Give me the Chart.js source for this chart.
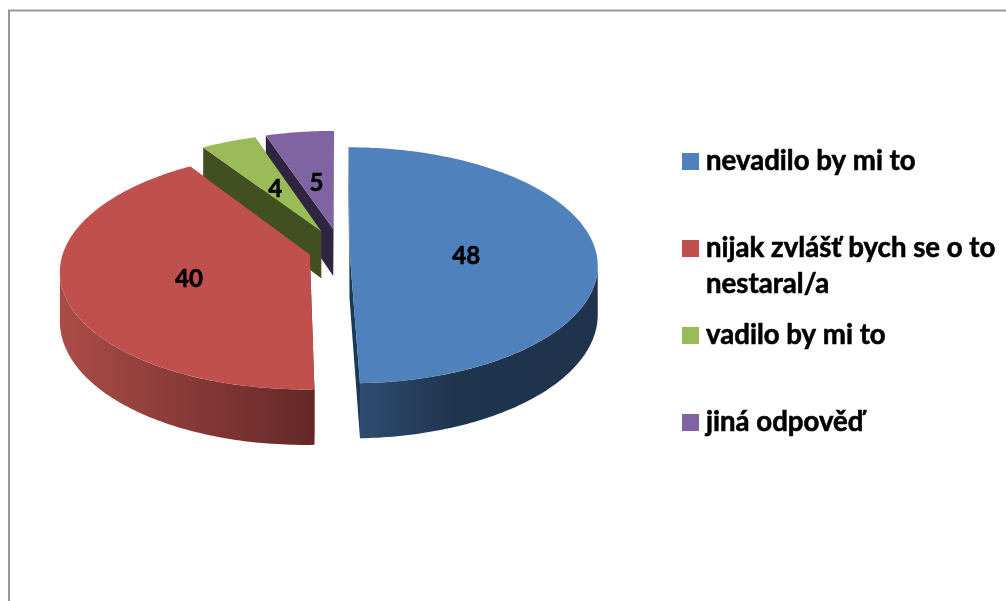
<!DOCTYPE html>
<html lang="cs">
  <head>
    <meta charset="utf-8">
    <title>Exploded 3D pie</title>
    <script src="https://cdn.jsdelivr.net/npm/chart.js@4/dist/chart.umd.js"></script>
    <style>
      html, body { margin: 0; padding: 0; background: #fff; overflow: hidden; }
      canvas { display: block; }
    </style>
  </head>
  <body>
    <canvas id="chart" width="1006" height="601"></canvas>
    <script>
      const categories = ['nevadilo by mi to', 'nijak zvlášť bych se o to nestaral/a', 'vadilo by mi to', 'jiná odpověď'];
      const values = [48, 40, 4, 5];

      // legend text as wrapped in the picture
      const legendLines = [['nevadilo by mi to'], ['nijak zvlášť bych se o to', 'nestaral/a'], ['vadilo by mi to'], ['jiná odpověď']];
      const legendBoxTop = [153, 240, 327, 414];

      const topColors = ['#4f81bd', '#c0504d', '#9bbb59', '#8064a2'];
      const cutColors = ['#1b3a57', '#642826', '#414f21', '#2f2540'];
      const wallStops = [
        [[0, '#2f4c70'], [0.4, '#1f344d'], [1, '#1f334c']],
        [[0, '#ab4c48'], [1, '#642826']],
        [[0, '#414f21'], [1, '#414f21']],
        [[0, '#2f2540'], [1, '#2f2540']]
      ];
      const explode = [9, 32, 45, 46];
      const labelRadius = [0.475, 0.5, 0.47, 0.47];
      const labelDrop = [7, 7, 3, 3];

      // fake perspective of the pie plane
      const TILT = 116 / 246;
      const PERSP = 0.13;
      const DEPTH = 48;

      function project(arc, wx, wz, h) {
        const w = 1 - PERSP * wz;
        return {
          x: arc.x + arc.outerRadius * wx / w,
          y: arc.y + (arc.outerRadius * TILT * wz + (h || 0)) / w
        };
      }

      // apex of an exploded slice, in units of the radius
      function apexOf(arc, i) {
        const mid = (arc.startAngle + arc.endAngle) / 2;
        const e = explode[i] / arc.outerRadius;
        return { x: e * Math.cos(mid), z: e * Math.sin(mid), mid };
      }

      function rimPoints(arc, i, from, to, h) {
        const a = apexOf(arc, i);
        const pts = [];
        const steps = Math.max(4, Math.ceil((to - from) * 60));
        for (let s = 0; s <= steps; s++) {
          const t = from + (to - from) * s / steps;
          pts.push(project(arc, a.x + Math.cos(t), a.z + Math.sin(t), h));
        }
        return pts;
      }

      function fillPoly(ctx, pts, fill) {
        ctx.beginPath();
        pts.forEach((p, n) => (n ? ctx.lineTo(p.x, p.y) : ctx.moveTo(p.x, p.y)));
        ctx.closePath();
        ctx.fillStyle = fill;
        ctx.fill();
      }

      function drawWalls(ctx, arc, i) {
        const a = apexOf(arc, i);
        [arc.startAngle, arc.endAngle].forEach(t => {
          const rimX = a.x + Math.cos(t), rimZ = a.z + Math.sin(t);
          fillPoly(ctx, [
            project(arc, a.x, a.z, 0), project(arc, rimX, rimZ, 0),
            project(arc, rimX, rimZ, DEPTH), project(arc, a.x, a.z, DEPTH)
          ], cutColors[i]);
        });
        // outer wall, only the part that faces the viewer
        const edge = Math.asin(PERSP);
        const from = Math.max(arc.startAngle, edge);
        const to = Math.min(arc.endAngle, Math.PI - edge);
        if (to <= from) return;
        const upper = rimPoints(arc, i, from, to, 0);
        const lower = rimPoints(arc, i, from, to, DEPTH).reverse();
        const xs = upper.map(p => p.x);
        const grad = ctx.createLinearGradient(Math.min(...xs), 0, Math.max(...xs), 0);
        wallStops[i].forEach(s => grad.addColorStop(s[0], s[1]));
        fillPoly(ctx, upper.concat(lower), grad);
      }

      // Lato bold is a bit thin next to the picture, so thicken it slightly
      function heavyText(ctx, text, x, y) {
        ctx.lineWidth = 0.6;
        ctx.strokeStyle = '#000';
        ctx.strokeText(text, x, y);
        ctx.fillText(text, x, y);
      }

      const pie3d = {
        id: 'pie3d',
        afterDatasetsUpdate(chart) {
          chart.getDatasetMeta(0).data.forEach((arc, i) => {
            // top face only, walls come from beforeDatasetsDraw
            arc.draw = ctx => {
              const a = apexOf(arc, i);
              const rim = rimPoints(arc, i, arc.startAngle, arc.endAngle, 0);
              fillPoly(ctx, [project(arc, a.x, a.z, 0)].concat(rim), topColors[i]);
            };
          });
        },
        beforeDraw(chart) {
          const ctx = chart.ctx;
          ctx.save();
          ctx.strokeStyle = '#989898';
          ctx.lineWidth = 2;
          ctx.beginPath();
          ctx.moveTo(9, 601);
          ctx.lineTo(9, 10.5);
          ctx.lineTo(1006, 10.5);
          ctx.stroke();
          ctx.restore();
        },
        beforeDatasetsDraw(chart) {
          const ctx = chart.ctx;
          const arcs = chart.getDatasetMeta(0).data;
          const order = arcs.map((arc, i) => i)
            .sort((p, q) => apexOf(arcs[p], p).z - apexOf(arcs[q], q).z);
          order.forEach(i => drawWalls(ctx, arcs[i], i));
        },
        afterDatasetsDraw(chart) {
          const ctx = chart.ctx;
          const arcs = chart.getDatasetMeta(0).data;
          ctx.save();
          ctx.font = 'bold 24px Lato';
          ctx.fillStyle = '#000';
          ctx.textAlign = 'center';
          ctx.textBaseline = 'middle';
          arcs.forEach((arc, i) => {
            const a = apexOf(arc, i);
            const r = labelRadius[i];
            const p = project(arc, a.x + r * Math.cos(a.mid), a.z + r * Math.sin(a.mid), 0);
            heavyText(ctx, String(values[i]), p.x, p.y + labelDrop[i]);
          });
          // legend
          ctx.font = 'bold 27.6px Lato';
          ctx.textAlign = 'left';
          ctx.textBaseline = 'alphabetic';
          legendLines.forEach((lines, i) => {
            ctx.fillStyle = topColors[i];
            ctx.fillRect(682, legendBoxTop[i], 17, 17);
            ctx.fillStyle = '#000';
            lines.forEach((line, n) => heavyText(ctx, line, 706, legendBoxTop[i] + 17 + n * 36));
          });
          ctx.restore();
        }
      };

      new Chart(document.getElementById('chart').getContext('2d'), {
        type: 'pie',
        data: {
          labels: categories,
          datasets: [{
            data: values,
            backgroundColor: topColors,
            borderWidth: 0,
            offset: explode,
            hoverOffset: 0,
            radius: 246
          }]
        },
        options: {
          responsive: false,
          animation: false,
          events: [],
          layout: { padding: { left: 95, right: 420, top: 4, bottom: 105 } },
          plugins: { legend: { display: false }, tooltip: { enabled: false } }
        },
        plugins: [pie3d]
      });
    </script>
  </body>
</html>
